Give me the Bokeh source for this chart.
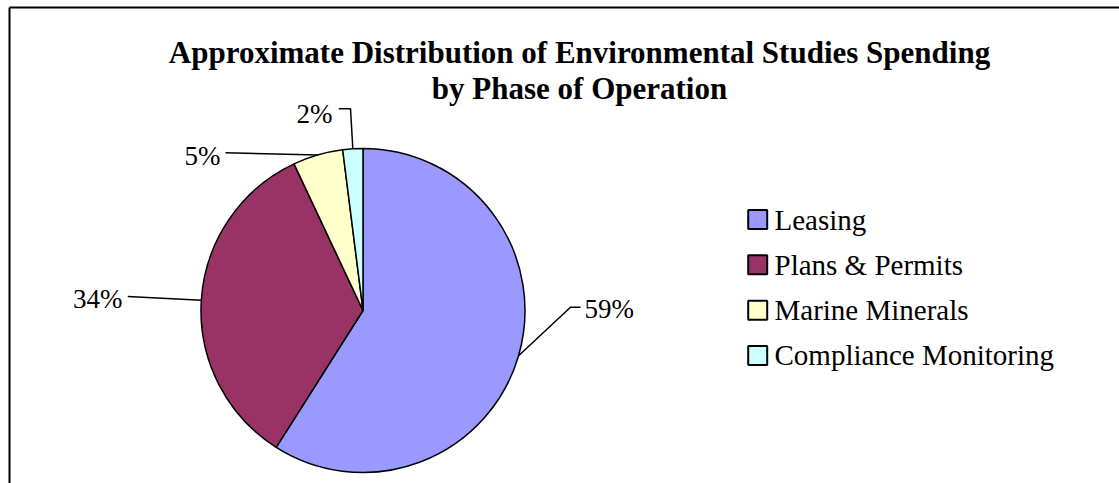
import numpy as np
from bokeh.plotting import figure
from bokeh.models import Range1d, ColumnDataSource
from bokeh.core.properties import value
from bokeh.embed import file_html
from bokeh.resources import INLINE

# ---- data ----
title_lines = ["Approximate Distribution of Environmental Studies Spending",
               "by Phase of Operation"]
categories = ["Leasing", "Plans & Permits", "Marine Minerals", "Compliance Monitoring"]
shares = [59, 34, 5, 2]
pct_labels = ["59%", "34%", "5%", "2%"]
colors = ["#9999FF", "#993366", "#FFFFCC", "#CCFFFF"]

# ---- layout ----
W, H = 1119, 483
CX, CY, R = 354.5, 173.0, 162.0
FONT = value("Liberation Serif")

p = figure(width=W, height=H, x_range=Range1d(-8, W - 8), y_range=Range1d(0, H),
           output_backend="svg", toolbar_location=None, min_border=0,
           x_axis_type=None, y_axis_type=None, outline_line_color=None,
           background_fill_color="white", border_fill_color="white")
p.grid.visible = False

# chart-area border (only top and left edges are inside the picture)
p.segment(x0=[1, 1], y0=[-20, 476], x1=[1, 1300], y1=[476, 476],
          line_color="black", line_width=2)

# ---- pie ----
frac = np.array(shares, dtype=float) / sum(shares)
cum = np.concatenate([[0.0], np.cumsum(frac)])
start = np.pi / 2 - cum[:-1] * 2 * np.pi
end = np.pi / 2 - cum[1:] * 2 * np.pi
src = ColumnDataSource(dict(start=start, end=end, color=colors, cat=categories))
p.wedge(x=CX, y=CY, radius=R, start_angle="start", end_angle="end",
        direction="clock", fill_color="color", line_color="black",
        line_width=1.5, source=src)

# ---- data labels with leader lines ----
mid = (start + end) / 2
ax = CX + R * np.cos(mid)
ay = CY + R * np.sin(mid)
leader_via = [[(562, 176.3), (572, 176.3)],
              [(119.3, 187)],
              [(217, 330.7)],
              [(342, 374.7), (330.3, 374.7)]]
label_pos = [(576, 175, "left"), (114, 185, "right"),
             (212, 328, "right"), (324, 370, "right")]
xs, ys = [], []
for i in range(len(shares)):
    xs.append([ax[i]] + [pt[0] for pt in leader_via[i]])
    ys.append([ay[i]] + [pt[1] for pt in leader_via[i]])
p.multi_line(xs=xs, ys=ys, line_color="black", line_width=1.5)
for i, txt in enumerate(pct_labels):
    lx, ly, al = label_pos[i]
    p.text(x=[lx], y=[ly], text=[txt], text_font=FONT, text_font_size="27px",
           text_align=al, text_baseline="middle", text_color="black")

# ---- title ----
p.text(x=[571, 571], y=[431.5, 395.5], text=title_lines, text_font=FONT,
       text_font_size="31px", text_font_style="bold", text_align="center",
       text_baseline="alphabetic", text_color="black")

# ---- legend ----
n = len(categories)
leg_y = 264 - np.arange(n) * 45.33
p.scatter(x=[749.2] * n, y=leg_y, marker="square", size=19, fill_color=colors,
          line_color="black", line_width=2)
p.text(x=[766] * n, y=leg_y, text=categories, text_font=FONT,
       text_font_size="29px", text_align="left", text_baseline="middle",
       text_color="black")

open("out.html", "w").write(file_html(p, INLINE))
